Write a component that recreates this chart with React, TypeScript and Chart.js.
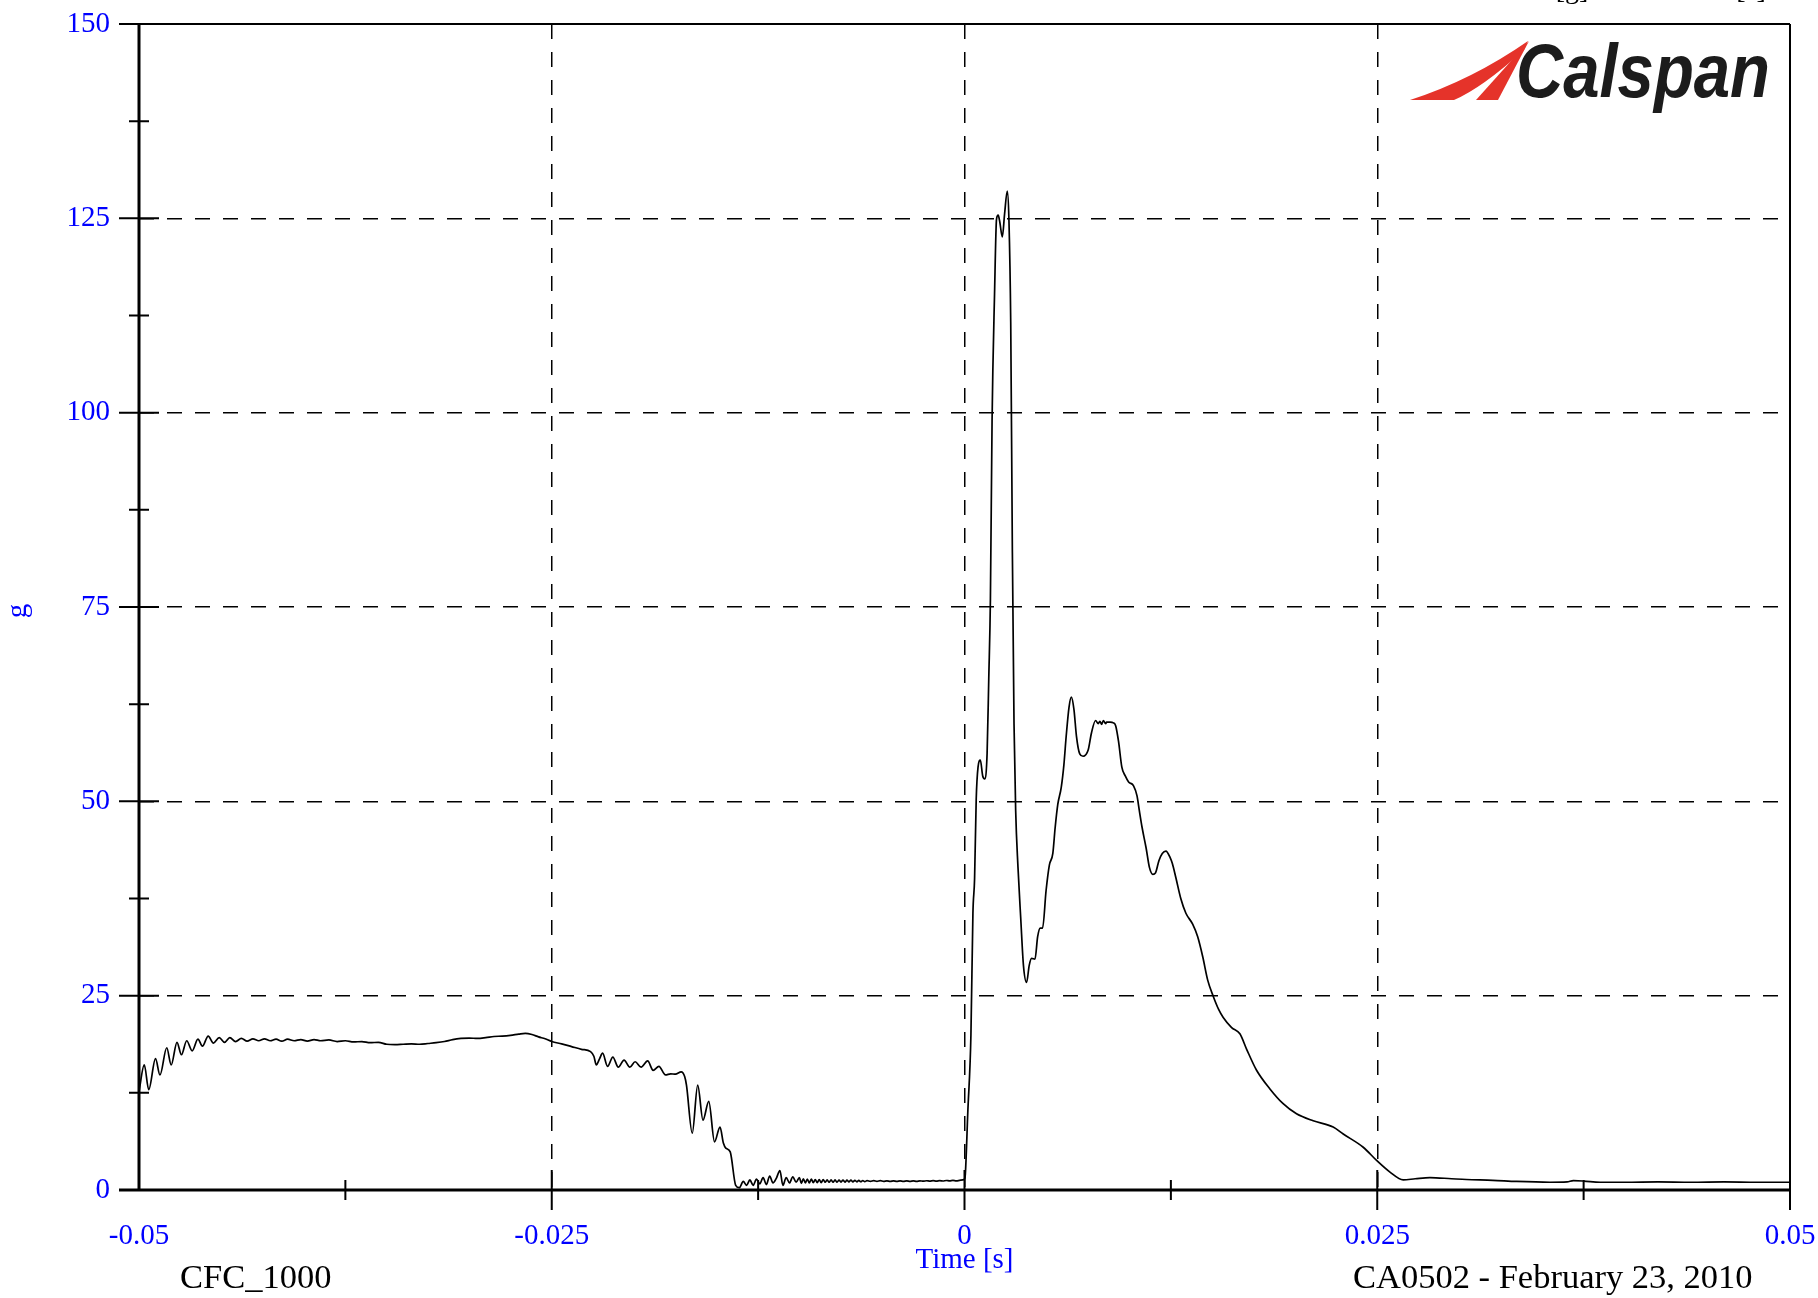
import React, { useEffect, useRef } from 'react';
import { Chart, registerables } from 'chart.js';

Chart.register(...registerables);

// ---- axes ----
const X_MIN_S = -0.05;
const X_MAX_S = 0.05;
const X_STEP_S = 0.0125;
const Y_MIN_G = 0;
const Y_MAX_G = 150;
const Y_STEP_G = 12.5;
const Y_MAJOR_G = 25;
const X_MAJOR_MS = 25;

// ---- texts ----
const X_AXIS_TITLE = 'Time [s]';
const Y_AXIS_TITLE = 'g';
const FOOTER_LEFT = 'CFC_1000';
const FOOTER_RIGHT = 'CA0502 - February 23, 2010';
const HEADER_UNITS = ['[g]', '[s]'];
const LOGO_TEXT = 'Calspan';

// ---- data: [time in ms, acceleration in g] ----
const settleSegment: [number, number][] = [
  [-50.0, 12.7], [-49.68, 16.1], [-49.41, 12.9], [-49.0, 16.9], [-48.73, 14.8],
  [-48.32, 18.3], [-48.05, 16.1], [-47.7, 19.0], [-47.43, 17.4], [-47.11, 19.2],
  [-46.78, 17.9], [-46.43, 19.4], [-46.16, 18.5], [-45.81, 19.8], [-45.49, 18.9],
  [-45.14, 19.6], [-44.82, 19.0], [-44.5, 19.6], [-44.15, 19.1], [-43.8, 19.5],
  [-43.45, 19.15], [-43.1, 19.45], [-42.75, 19.2], [-42.4, 19.45], [-42.05, 19.2],
  [-41.7, 19.4], [-41.35, 19.15], [-41.0, 19.4], [-40.6, 19.2], [-40.2, 19.35],
  [-39.8, 19.15], [-39.4, 19.35], [-39.0, 19.2],
];

const plateauSegment: [number, number][] = [
  [-38.5, 19.3], [-38.0, 19.1], [-37.5, 19.2], [-37.0, 19.05], [-36.5, 19.1],
  [-36.0, 18.95], [-35.5, 19.0], [-35.0, 18.75], [-34.5, 18.7], [-34.0, 18.75],
  [-33.5, 18.8], [-33.0, 18.75], [-32.5, 18.85], [-32.0, 18.95], [-31.5, 19.1],
  [-31.0, 19.35], [-30.5, 19.5], [-30.0, 19.55], [-29.5, 19.5], [-29.0, 19.6],
  [-28.5, 19.75], [-28.0, 19.8], [-27.5, 19.9], [-27.0, 20.05], [-26.6, 20.15],
  [-26.2, 20.0], [-25.8, 19.7], [-25.4, 19.45], [-25.0, 19.1], [-24.4, 18.8],
  [-23.8, 18.45], [-23.2, 18.1], [-22.65, 17.8],
];

const releaseSegment: [number, number][] = [
  [-22.45, 17.2], [-22.3, 16.1], [-22.1, 16.9], [-21.92, 17.6], [-21.62, 15.9],
  [-21.3, 17.1], [-20.97, 15.8], [-20.62, 16.7], [-20.27, 15.8], [-19.95, 16.5],
  [-19.59, 15.8], [-19.19, 16.6], [-18.86, 15.4], [-18.51, 15.9], [-18.11, 14.8],
  [-17.8, 14.95], [-17.51, 14.9], [-17.16, 15.2], [-16.95, 14.6], [-16.84, 13.5],
  [-16.49, 7.3], [-16.16, 13.5], [-15.84, 9.0], [-15.49, 11.4], [-15.14, 6.2],
  [-14.81, 8.1], [-14.6, 6.0], [-14.46, 5.4], [-14.19, 4.9], [-13.86, 0.6],
  [-13.64, 0.3], [-13.4, 1.1], [-13.2, 0.6], [-13.0, 1.3], [-12.8, 0.6],
  [-12.6, 1.4], [-12.4, 0.8], [-12.2, 1.6], [-12.0, 0.7], [-11.8, 1.8],
  [-11.6, 0.9], [-11.4, 1.5], [-11.18, 2.5], [-11.0, 0.6], [-10.8, 1.6],
  [-10.6, 0.9], [-10.4, 1.7], [-10.2, 1.0], [-10.0, 1.6],
];

const quietSegment: [number, number][] = [
  [-9.88, 0.85], [-9.76, 1.45], [-9.64, 0.9], [-9.52, 1.4], [-9.4, 0.9],
  [-9.28, 1.4], [-9.16, 0.95], [-9.04, 1.35], [-8.92, 0.95], [-8.8, 1.35],
  [-8.68, 0.95], [-8.56, 1.35], [-8.44, 1.0], [-8.32, 1.3], [-8.2, 1.0],
  [-8.08, 1.3], [-7.96, 1.0], [-7.84, 1.3], [-7.72, 1.0], [-7.6, 1.28],
  [-7.48, 1.02], [-7.36, 1.28], [-7.24, 1.02], [-7.12, 1.26], [-7.0, 1.04],
  [-6.88, 1.26], [-6.76, 1.04], [-6.64, 1.25], [-6.52, 1.05], [-6.4, 1.24],
  [-6.28, 1.06], [-6.16, 1.22], [-6.04, 1.08], [-5.9, 1.2], [-5.7, 1.1],
  [-5.5, 1.2], [-5.3, 1.1], [-5.1, 1.2], [-4.9, 1.1], [-4.7, 1.18],
  [-4.5, 1.1], [-4.3, 1.18], [-4.1, 1.1], [-3.9, 1.17], [-3.7, 1.12],
  [-3.5, 1.18], [-3.3, 1.12], [-3.1, 1.18], [-2.9, 1.12], [-2.7, 1.18],
  [-2.5, 1.13], [-2.3, 1.19], [-2.1, 1.14], [-1.9, 1.2], [-1.7, 1.15],
  [-1.5, 1.2], [-1.3, 1.16], [-1.1, 1.22], [-0.9, 1.17], [-0.7, 1.23],
  [-0.5, 1.18], [-0.3, 1.24], [-0.1, 1.3], [0.0, 1.4],
];

const impactSegment: [number, number][] = [
  [0.05, 2.0], [0.2, 10.0], [0.39, 20.0], [0.51, 35.6], [0.61, 40.0],
  [0.71, 50.3], [0.82, 54.4], [0.96, 55.3], [1.1, 53.3], [1.22, 52.9],
  [1.37, 56.2], [1.47, 65.8], [1.57, 76.1], [1.67, 99.0], [1.82, 115.3],
  [1.94, 124.9], [2.04, 125.4], [2.14, 124.5], [2.29, 122.6], [2.43, 125.6],
  [2.59, 128.5], [2.69, 124.9], [2.8, 111.6], [2.9, 82.0], [3.0, 59.9],
  [3.1, 48.8], [3.24, 41.5], [3.41, 34.8], [3.57, 28.9], [3.76, 26.7],
  [3.92, 28.9], [4.06, 29.8], [4.27, 29.7], [4.43, 32.6], [4.59, 33.7],
  [4.73, 33.7], [4.94, 38.5], [5.14, 41.8], [5.35, 43.3], [5.49, 46.6],
  [5.65, 49.6], [5.86, 51.8], [6.02, 54.7], [6.16, 58.4], [6.33, 62.1],
  [6.47, 63.4], [6.63, 61.8], [6.78, 58.4], [6.98, 56.1], [7.18, 55.8],
  [7.49, 56.6], [7.69, 58.8], [7.94, 60.4], [8.1, 60.0], [8.2, 60.3],
  [8.3, 59.9], [8.41, 60.4], [8.55, 60.0], [8.61, 60.2], [8.82, 60.2],
  [9.02, 60.1], [9.16, 59.7], [9.33, 57.7], [9.53, 54.4], [9.73, 53.3],
  [9.94, 52.5], [10.24, 52.0], [10.45, 50.7], [10.59, 48.8], [10.76, 46.6],
  [11.0, 44.0], [11.2, 41.5], [11.41, 40.6], [11.57, 40.8], [11.78, 42.4],
  [11.98, 43.3], [12.2, 43.6], [12.45, 42.8], [12.59, 42.0], [12.8, 40.2],
];

const decaySegment: [number, number][] = [
  [13.1, 37.5], [13.41, 35.6], [13.82, 34.2], [14.12, 32.6], [14.43, 30.0],
  [14.73, 27.0], [15.07, 24.9], [15.4, 23.2], [15.67, 22.2], [16.18, 20.9],
  [16.68, 20.1], [17.09, 18.1], [17.69, 15.4], [18.5, 13.0], [19.3, 11.1],
  [20.11, 9.8], [21.12, 8.9], [22.33, 8.1], [22.94, 7.2], [24.15, 5.5],
  [24.96, 3.8], [25.77, 2.3], [26.57, 1.3],
];

const tailSegment: [number, number][] = [
  [27.3, 1.45], [28.19, 1.6], [29.5, 1.45], [30.4, 1.35], [32.0, 1.25],
  [33.44, 1.1], [35.46, 1.0], [36.5, 1.05], [36.88, 1.2], [37.5, 1.15],
  [38.5, 1.0], [40.0, 1.0], [42.0, 1.05], [44.0, 1.0], [46.0, 1.05],
  [48.0, 1.0], [50.0, 1.0],
];

const SERIES_SEGMENTS = [
  settleSegment, plateauSegment, releaseSegment, quietSegment,
  impactSegment, decaySegment, tailSegment,
];

const SERIF = '"Liberation Serif", "Times New Roman", serif';
const BLUE = '#0000ff';
const CLEAR = 'rgba(0,0,0,0)';

const isMajorX = (v: number) => Math.round(v * 1000) % X_MAJOR_MS === 0;
const isMajorY = (v: number) => Math.round(v * 10) % (Y_MAJOR_G * 10) === 0;

function drawLogo(ctx: CanvasRenderingContext2D) {
  ctx.save();
  ctx.fillStyle = '#e5332a';
  // long swoosh blade
  ctx.beginPath();
  ctx.moveTo(1410, 100);
  ctx.quadraticCurveTo(1472, 80, 1528, 41);
  ctx.lineTo(1524, 50);
  ctx.quadraticCurveTo(1482, 88, 1454, 100);
  ctx.closePath();
  ctx.fill();
  // short leg
  ctx.beginPath();
  ctx.moveTo(1476, 100);
  ctx.lineTo(1529, 41);
  ctx.lineTo(1498, 100);
  ctx.closePath();
  ctx.fill();
  // word mark
  ctx.fillStyle = '#1c1c1c';
  ctx.font = 'italic bold 76px "Liberation Sans", Arial, sans-serif';
  ctx.textAlign = 'left';
  ctx.textBaseline = 'alphabetic';
  const w = ctx.measureText(LOGO_TEXT).width;
  ctx.translate(1516, 97);
  ctx.scale(254 / w, 1);
  ctx.fillText(LOGO_TEXT, 0, 0);
  ctx.restore();
}

const framePlugin = {
  id: 'calspanFrame',
  afterDraw(chart: any) {
    const { ctx, chartArea: a } = chart;
    const xs = chart.scales.x;
    const ys = chart.scales.y;
    ctx.save();
    ctx.setLineDash([]);
    ctx.strokeStyle = '#000';

    // frame
    ctx.lineWidth = 2;
    ctx.beginPath();
    ctx.moveTo(a.left, a.top);
    ctx.lineTo(a.right, a.top);
    ctx.moveTo(a.right, a.top);
    ctx.lineTo(a.right, a.bottom + 20);
    ctx.stroke();
    ctx.lineWidth = 3;
    ctx.beginPath();
    ctx.moveTo(a.left, a.top);
    ctx.lineTo(a.left, a.bottom);
    ctx.moveTo(a.left - 20, a.bottom);
    ctx.lineTo(a.right, a.bottom);
    ctx.stroke();

    // crossing tick marks
    ctx.lineWidth = 2;
    ctx.beginPath();
    ys.ticks.forEach((t: any) => {
      const py = ys.getPixelForValue(t.value);
      const len = isMajorY(t.value) ? 20 : 10;
      ctx.moveTo(a.left - len, py);
      ctx.lineTo(a.left + len, py);
    });
    xs.ticks.forEach((t: any) => {
      const ms = Math.round(t.value * 1000);
      if (ms === X_MIN_S * 1000) return;
      const px = xs.getPixelForValue(t.value);
      const len = isMajorX(t.value) ? 20 : 10;
      ctx.moveTo(px, a.bottom - len);
      ctx.lineTo(px, a.bottom + len);
    });
    ctx.stroke();

    // texts
    ctx.fillStyle = BLUE;
    ctx.font = `29px ${SERIF}`;
    ctx.textAlign = 'center';
    ctx.textBaseline = 'alphabetic';
    ctx.fillText(X_AXIS_TITLE, xs.getPixelForValue(0), 1268);

    ctx.save();
    ctx.translate(18, 611);
    ctx.rotate(-Math.PI / 2);
    ctx.textBaseline = 'middle';
    ctx.fillText(Y_AXIS_TITLE, 0, 0);
    ctx.restore();

    ctx.fillStyle = '#000';
    ctx.font = `34.5px ${SERIF}`;
    ctx.textAlign = 'left';
    ctx.fillText(FOOTER_LEFT, 180, 1288);
    ctx.fillText(FOOTER_RIGHT, 1353, 1288);

    ctx.font = `28px ${SERIF}`;
    ctx.textAlign = 'center';
    ctx.fillText(HEADER_UNITS[0], 1572, -2);
    ctx.fillText(HEADER_UNITS[1], 1751, -2);

    drawLogo(ctx);
    ctx.restore();
  },
};

export default function App() {
  const ref = useRef<HTMLCanvasElement | null>(null);

  useEffect(() => {
    document.body.style.margin = '0';
    const canvas = ref.current;
    if (!canvas) return;
    const points = SERIES_SEGMENTS.flat().map(([ms, g]) => ({ x: ms / 1000, y: g }));

    const chart = new Chart(canvas, {
      type: 'line',
      data: {
        datasets: [
          {
            data: points,
            borderColor: '#000',
            borderWidth: 1.7,
            pointRadius: 0,
            fill: false,
            cubicInterpolationMode: 'monotone',
          },
        ],
      },
      options: {
        animation: false,
        responsive: false,
        maintainAspectRatio: false,
        parsing: false as any,
        layout: { padding: { top: 24, right: 28, left: 0, bottom: 0 } },
        plugins: { legend: { display: false }, tooltip: { enabled: false } },
        scales: {
          x: {
            type: 'linear',
            min: X_MIN_S,
            max: X_MAX_S,
            afterFit: (s: any) => { s.height = 108; },
            ticks: {
              stepSize: X_STEP_S,
              autoSkip: false,
              maxRotation: 0,
              padding: 0,
              color: BLUE,
              font: { family: SERIF, size: 29 },
              callback: (v: any) => {
                const n = Number(v);
                return isMajorX(n) ? String(Math.round(n * 1000) / 1000) : '';
              },
            },
            grid: {
              drawTicks: true,
              tickLength: 29,
              tickColor: CLEAR,
              lineWidth: 1.5,
              color: (c: any) => {
                const v = c.tick?.value ?? 0;
                const ms = Math.round(v * 1000);
                return isMajorX(v) && ms !== -50 && ms !== 50 ? '#000' : CLEAR;
              },
            },
            border: { display: false, dash: [15, 13] },
          },
          y: {
            type: 'linear',
            min: Y_MIN_G,
            max: Y_MAX_G,
            afterFit: (s: any) => { s.width = 139; },
            ticks: {
              stepSize: Y_STEP_G,
              autoSkip: false,
              padding: 0,
              color: BLUE,
              font: { family: SERIF, size: 29 },
              callback: (v: any) => (isMajorY(Number(v)) ? String(v) : ''),
            },
            grid: {
              drawTicks: true,
              tickLength: 29,
              tickColor: CLEAR,
              lineWidth: 1.5,
              color: (c: any) => {
                const v = c.tick?.value ?? 0;
                return isMajorY(v) && v !== Y_MIN_G && v !== Y_MAX_G ? '#000' : CLEAR;
              },
            },
            border: { display: false, dash: [15, 13] },
          },
        },
      },
      plugins: [framePlugin],
    });
    return () => chart.destroy();
  }, []);

  return (
    <canvas ref={ref} width={1818} height={1298} style={{ display: 'block', width: 1818, height: 1298 }} />
  );
}
